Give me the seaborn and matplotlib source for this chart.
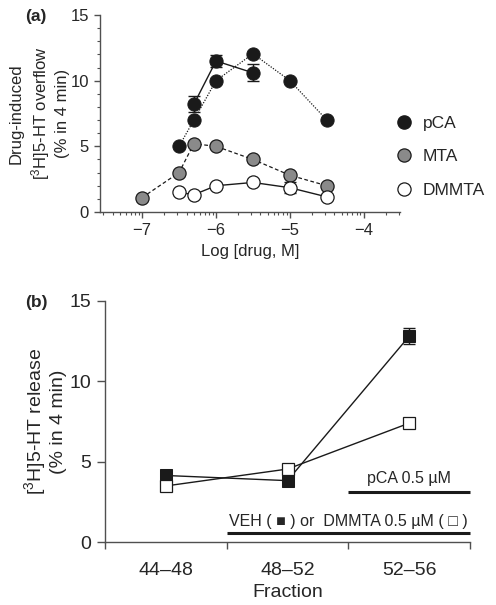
import numpy as np
import pandas as pd
import matplotlib
matplotlib.use("Agg")
import matplotlib.pyplot as plt
import seaborn as sns
from matplotlib.ticker import FixedLocator, MultipleLocator
from matplotlib.lines import Line2D

# ---------------- data: panel (a) ----------------
pca1_x = [-6.3, -6.0, -5.5]
pca1_y = [8.2, 11.5, 10.6]
pca1_err = [0.6, 0.46, 0.66]

pca2_x = [-6.5, -6.3, -6.0, -5.5, -5.0, -4.5]
pca2_y = [5.0, 7.0, 10.0, 12.05, 10.0, 7.0]

mta_x = [-7.0, -6.5, -6.3, -6.0, -5.5, -5.0, -4.5]
mta_y = [1.1, 3.0, 5.2, 5.0, 4.0, 2.8, 2.0]

dmmta_x = [-6.5, -6.3, -6.0, -5.5, -5.0, -4.5]
dmmta_y = [1.5, 1.32, 2.0, 2.25, 1.85, 1.15]
dmmta_err = [0.0, 0.0, 0.0, 0.0, 0.4, 0.0]

legend_labels = ["pCA", "MTA", "DMMTA"]

# ---------------- data: panel (b) ----------------
fractions = ["44\u201348", "48\u201352", "52\u201356"]
veh_y = [4.15, 3.83, 12.8]
veh_err = [0.0, 0.0, 0.5]
dm_y = [3.5, 4.55, 7.4]

# ---------------- style ----------------
sns.set_style("ticks")
plt.rcParams["font.family"] = ["Liberation Sans", "DejaVu Sans"]
plt.rcParams["mathtext.fontset"] = "custom"
plt.rcParams["mathtext.rm"] = "Liberation Sans"
plt.rcParams["mathtext.it"] = "Liberation Sans:italic"
plt.rcParams["mathtext.bf"] = "Liberation Sans:bold"

spine_col = "#505050"
dark = "#1a1a1a"
gray = "#8a8a8a"

fig = plt.figure(figsize=(4.96, 6.05), dpi=100)

# ---------------- panel (a) ----------------
axa = fig.add_axes([100/496, 1-212/605, 300/496, 197/605])

df_p1 = pd.DataFrame({"x": pca1_x, "y": pca1_y})
df_p2 = pd.DataFrame({"x": pca2_x, "y": pca2_y})
df_m = pd.DataFrame({"x": mta_x, "y": mta_y})
df_d = pd.DataFrame({"x": dmmta_x, "y": dmmta_y})

ms = 9.5
sns.lineplot(data=df_p2, x="x", y="y", ax=axa, color=dark, lw=0.9,
             linestyle=(0, (1, 1.2)), marker="o", markersize=ms,
             markerfacecolor=dark, markeredgecolor=dark, zorder=3)
axa.errorbar(pca1_x, pca1_y, yerr=pca1_err, fmt="none", ecolor=dark,
             elinewidth=1.0, capsize=4, capthick=1.0, zorder=2)
sns.lineplot(data=df_p1, x="x", y="y", ax=axa, color=dark, lw=1.0,
             linestyle="-", marker="o", markersize=ms,
             markerfacecolor=dark, markeredgecolor=dark, zorder=4)
sns.lineplot(data=df_m, x="x", y="y", ax=axa, color=dark, lw=0.9,
             linestyle=(0, (3, 2)), marker="o", markersize=ms,
             markerfacecolor=gray, markeredgecolor=dark, markeredgewidth=0.9,
             zorder=3)
axa.errorbar(dmmta_x, dmmta_y, yerr=dmmta_err, fmt="none", ecolor=dark,
             elinewidth=1.0, capsize=4, capthick=1.0, zorder=2)
sns.lineplot(data=df_d, x="x", y="y", ax=axa, color=dark, lw=1.0,
             linestyle="-", marker="o", markersize=ms,
             markerfacecolor="white", markeredgecolor=dark, markeredgewidth=0.9,
             zorder=3)

axa.set_xlim(-7.57, -3.51)
axa.set_ylim(0, 15)
axa.set_xticks([-7, -6, -5, -4])
axa.set_xticklabels(["\u22127", "\u22126", "\u22125", "\u22124"])
minor_x = [d + np.log10(k) for d in range(-8, -3) for k in range(2, 10)]
axa.xaxis.set_minor_locator(FixedLocator(minor_x))
axa.set_yticks([0, 5, 10, 15])
axa.yaxis.set_minor_locator(MultipleLocator(1))
axa.tick_params(axis="both", which="major", labelsize=12, length=4,
                width=1, color=spine_col, direction="out", pad=4)
axa.tick_params(axis="both", which="minor", length=2.5, width=0.8,
                color=spine_col, direction="out")
axa.set_xlabel("Log [drug, M]", fontsize=12, labelpad=4)
axa.set_ylabel("Drug-induced\n[$^{3}$H]5-HT overflow\n(% in 4 min)",
               fontsize=12, labelpad=0, linespacing=1.3)
for s in ["top", "right"]:
    axa.spines[s].set_visible(False)
for s in ["left", "bottom"]:
    axa.spines[s].set_color(spine_col)
    axa.spines[s].set_linewidth(1.0)

handles = [
    Line2D([], [], linestyle="none", marker="o", markersize=ms,
           markerfacecolor=dark, markeredgecolor=dark),
    Line2D([], [], linestyle="none", marker="o", markersize=ms,
           markerfacecolor=gray, markeredgecolor=dark, markeredgewidth=0.9),
    Line2D([], [], linestyle="none", marker="o", markersize=ms,
           markerfacecolor="white", markeredgecolor=dark, markeredgewidth=0.9),
]
fig.legend(handles, legend_labels, loc="upper left",
           bbox_to_anchor=(388/496, 1-109/605), frameon=False,
           fontsize=12.5, handletextpad=0.6, labelspacing=1.05,
           handlelength=1.0, borderaxespad=0)

fig.text(25/496, 1-17/605, "(a)", fontsize=12.5, fontweight="bold",
         ha="left", va="center")

# ---------------- panel (b) ----------------
axb = fig.add_axes([105/496, 1-542.3/605, 365/496, 241.5/605])
xpos = [0.5, 1.5, 2.5]
df_v = pd.DataFrame({"x": xpos, "y": veh_y})
df_dm = pd.DataFrame({"x": xpos, "y": dm_y})

axb.errorbar(xpos, veh_y, yerr=veh_err, fmt="none", ecolor=dark,
             elinewidth=1.0, capsize=4, capthick=1.0, zorder=2)
sns.lineplot(data=df_v, x="x", y="y", ax=axb, color=dark, lw=1.0,
             marker="s", markersize=8.5, markerfacecolor=dark,
             markeredgecolor=dark, zorder=3)
sns.lineplot(data=df_dm, x="x", y="y", ax=axb, color=dark, lw=1.0,
             marker="s", markersize=8.5, markerfacecolor="white",
             markeredgecolor=dark, markeredgewidth=0.9, zorder=4)

axb.set_xlim(0, 3)
axb.set_ylim(0, 15)
axb.set_xticks([0, 1, 2, 3])
axb.set_xticklabels([])
axb.xaxis.set_minor_locator(FixedLocator(xpos))
axb.set_xticklabels(fractions, minor=True)
axb.set_yticks([0, 5, 10, 15])
axb.tick_params(axis="x", which="major", length=5, width=1,
                color=spine_col, direction="out")
axb.tick_params(axis="x", which="minor", length=0, labelsize=14, pad=14)
axb.tick_params(axis="y", which="major", length=6, width=1,
                color=spine_col, direction="out", labelsize=14, pad=4)
axb.set_xlabel("Fraction", fontsize=14, labelpad=4)
axb.set_ylabel("[$^{3}$H]5-HT release\n(% in 4 min)", fontsize=14,
               labelpad=2, linespacing=1.15)
for s in ["top", "right"]:
    axb.spines[s].set_visible(False)
for s in ["left", "bottom"]:
    axb.spines[s].set_color(spine_col)
    axb.spines[s].set_linewidth(1.0)

# treatment bars
axb.plot([2.0, 3.0], [3.15, 3.15], color=dark, lw=2.2, solid_capstyle="butt",
         clip_on=False)
axb.text(2.5, 3.5, "pCA 0.5 \u00b5M", ha="center", va="bottom", fontsize=11.5)
axb.plot([1.0, 3.0], [0.6, 0.6], color=dark, lw=2.2, solid_capstyle="butt",
         clip_on=False)
axb.text(2.0, 0.85, "VEH ( \u25a0 ) or  DMMTA 0.5 \u00b5M ( \u25a1 )",
         ha="center", va="bottom", fontsize=11.5,
         family=["Liberation Sans", "DejaVu Sans"])

fig.text(25/496, 1-302/605, "(b)", fontsize=12.5, fontweight="bold",
         ha="left", va="center")

fig.savefig("out.png", dpi=100)
